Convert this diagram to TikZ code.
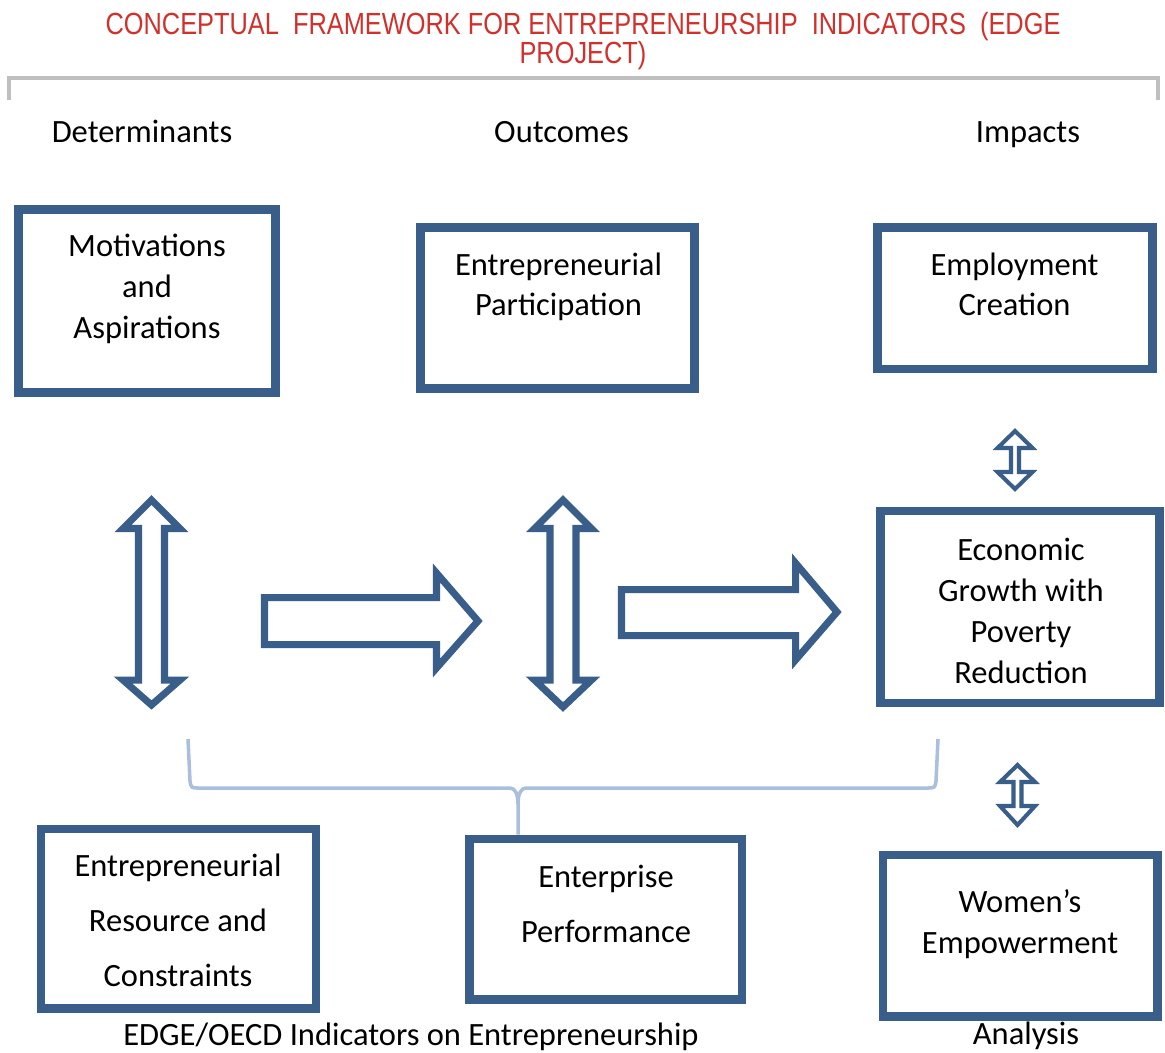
\documentclass[tikz,border=0pt]{standalone}
\usepackage{fontspec}
\setmainfont{Carlito}
\newfontfamily\titlefont[FakeStretch=0.83]{Liberation Sans}
\usetikzlibrary{fit}
\definecolor{boxblue}{HTML}{3A5E8A}
\definecolor{titlered}{HTML}{D0312D}
\definecolor{bracegray}{HTML}{BFBFBF}
\definecolor{bracelight}{HTML}{A9BFDD}
\begin{document}
\begin{tikzpicture}[x=0.02cm,y=-0.02cm,
  box/.style={draw=boxblue, line width=5.1pt, inner sep=0pt, fill=white},
  boxtext/.style={font=\fontsize{18.5}{23.2}\selectfont, align=center, anchor=base, inner sep=0pt, text=black},
  widetext/.style={boxtext, font=\fontsize{18.5}{31.3}\selectfont},
  header/.style={font=\fontsize{18.5}{22}\selectfont, anchor=base, inner sep=0pt},
  titletext/.style={font=\titlefont\fontsize{17.4}{16.4}\selectfont, text=titlered, align=center, anchor=base, inner sep=0pt},
  blockarrow/.style={draw=boxblue, line width=4pt, fill=white, line join=miter},
  smallarrow/.style={draw=boxblue, line width=2.3pt, fill=white, line join=miter},
  topbracket/.style={draw=bracegray, line width=2.3pt},
  brace/.style={draw=bracelight, line width=2pt}
]
\useasboundingbox (0,0) rectangle (1165,1052);
\fill[white] (0,0) rectangle (1165,1052);

% title (anchor = baseline of last line)
\node[titletext] (title) at (583,63) {CONCEPTUAL\ \ FRAMEWORK FOR ENTREPRENEURSHIP\ \ INDICATORS\ \ (EDGE\\PROJECT)};

% top bracket
\coordinate (tbl) at (9,100);
\coordinate (tbr) at (1158,100);
\draw[topbracket] (tbl) -- (9,78) -- (1158,78) -- (tbr);

% headers
\node[header] (hdet) at (142,142) {Determinants};
\node[header] (hout) at (561.5,142) {Outcomes};
\node[header] (himp) at (1028,142) {Impacts};

% boxes
\node[box, fit={(18.5,209.5) (275.5,392.5)}] (b1) {};
\node[box, fit={(420.5,227.5) (694.5,388.5)}] (b2) {};
\node[box, fit={(877.5,227.5) (1152.5,369)}] (b3) {};
\node[box, fit={(880.5,511) (1159.5,703)}] (b4) {};
\node[box, fit={(41,829) (316,1008)}] (b5) {};
\node[box, fit={(469.5,839) (742,999)}] (b6) {};
\node[box, fit={(883,855) (1157.5,1016)}] (b7) {};

% box texts (anchor = baseline of last line)
\node[boxtext] (t1) at (147,338) {Motivations\\and\\Aspirations};
\node[boxtext, font=\fontsize{18.5}{22.7}\selectfont] (t2) at (558.5,315) {Entrepreneurial\\Participation};
\node[boxtext, font=\fontsize{18.5}{22.7}\selectfont] (t3) at (1014.5,315) {Employment\\Creation};
\node[boxtext] (t4) at (1021,683) {Economic\\Growth with\\Poverty\\Reduction};
\node[widetext] (t5) at (178,986) {Entrepreneurial\\Resource and\\Constraints};
\node[widetext] (t6) at (606,942) {Enterprise\\Performance};
\node[boxtext] (t7) at (1020,953) {Women’s\\Empowerment};

% captions
\node[header] (cap1) at (411,1045) {EDGE/OECD Indicators on Entrepreneurship};
\node[header] (cap2) at (1026,1044) {Analysis};

% big double arrows (vertical)
\draw[blockarrow] (151.5,500) -- (180,528.5) -- (164.5,528.5) -- (164.5,680) -- (180,680) -- (151.5,705)
  -- (123,680) -- (138.5,680) -- (138.5,528.5) -- (123,528.5) -- cycle;
\draw[blockarrow] (563,500) -- (591.5,528.5) -- (576,528.5) -- (576,680) -- (591.5,680) -- (563,707)
  -- (534.5,680) -- (550,680) -- (550,528.5) -- (534.5,528.5) -- cycle;

% big right arrows
\draw[blockarrow] (264.5,597.5) -- (436.5,597.5) -- (436.5,573) -- (478,621) -- (436.5,668)
  -- (436.5,644.5) -- (264.5,644.5) -- cycle;
\draw[blockarrow] (621.5,589.5) -- (795.5,589.5) -- (795.5,563) -- (837,612) -- (795.5,660)
  -- (795.5,635.5) -- (621.5,635.5) -- cycle;

% small double arrows
\draw[smallarrow] (1015,431) -- (1032.5,448) -- (1019,448) -- (1019,472) -- (1032.5,472) -- (1015,489)
  -- (997.5,472) -- (1011,472) -- (1011,448) -- (997.5,448) -- cycle;
\draw[smallarrow] (1017.5,765) -- (1035,782) -- (1021.5,782) -- (1021.5,806) -- (1035,806) -- (1017.5,825)
  -- (1000,806) -- (1013.5,806) -- (1013.5,782) -- (1000,782) -- cycle;

% brace
\coordinate (brl) at (188,739);
\coordinate (brr) at (938,739);
\coordinate (brtip) at (b6.north -| 518,0);
\draw[brace] (brl) -- (190,781) .. controls (191,788) and (192,788) .. (198,788) -- (510,788)
  .. controls (515,788) and (518,794) .. (518,804) -- (brtip);
\draw[brace] (brr) -- (936,781) .. controls (935,788) and (934,788) .. (928,788) -- (526,788)
  .. controls (521,788) and (518,794) .. (518,804);
\end{tikzpicture}
\end{document}
